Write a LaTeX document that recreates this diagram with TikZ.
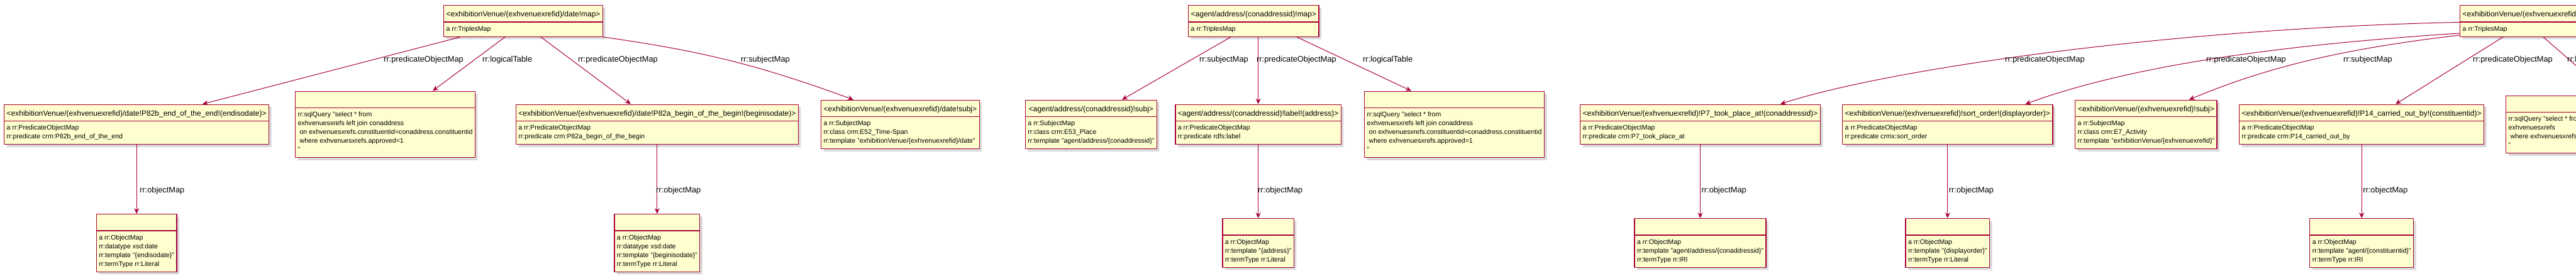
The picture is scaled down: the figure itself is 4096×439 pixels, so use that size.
\documentclass[tikz,border=0pt]{standalone}
\usepackage{fontspec}
\setmainfont{Liberation Sans}
\usetikzlibrary{shapes.multipart,shadows,arrows.meta,positioning}
\definecolor{umlred}{HTML}{A80036}
\definecolor{umlfill}{HTML}{FEFECE}
\begin{document}
\begin{tikzpicture}[x=1pt, y=-1pt, line join=round,
		map/.style={rectangle split, rectangle split parts=2, rectangle split part align={center,left},
			draw=umlred, line width=1.3pt, fill=umlfill, inner xsep=4pt, inner ysep=4pt,
			drop shadow={shadow xshift=4pt, shadow yshift=-4pt, opacity=.3}},
		link/.style={umlred, line width=1pt, -{Stealth[length=9pt,width=8pt,inset=3pt]}},
		rel/.style={font=\fontsize{12.8}{14}\selectfont, anchor=west, inner sep=0pt}]
				\def\hd#1{\fontsize{12}{14}\selectfont\rule[-3.5pt]{0pt}{17pt}#1}
				\def\bd#1{\fontsize{10.6}{14}\selectfont\begin{tabular}{@{}l@{}}#1\end{tabular}}
				\useasboundingbox (0,0) rectangle (4096,439);
				\clip (0,0) rectangle (4096,439);
				\path
				(0,198) coordinate (r2)
				(0,386.5) coordinate (r3)
				;
				% date map
				\node[map, anchor=north west] (t1) at (705,8) {\hd{<exhibitionVenue/(exhvenuexrefid)/date!map>}\nodepart{two}\bd{a rr:TriplesMap}};
				\node[map, anchor=west] (p82b) at (6,198) {\hd{<exhibitionVenue/(exhvenuexrefid)/date!P82b\_end\_of\_the\_end!(endisodate)>}\nodepart{two}\bd{a rr:PredicateObjectMap\\rr:predicate crm:P82b\_end\_of\_the\_end}};
				\node[map, anchor=west] (sql1) at (469,198) {\hd{}\nodepart{two}\bd{rr:sqlQuery "select * from\\exhvenuesxrefs left join conaddress\\\ on exhvenuesxrefs.constituentid=conaddress.constituentid\\\ where exhvenuesxrefs.approved=1\\"}};
				\node[map, anchor=east] (p82a) at (1270,198) {\hd{<exhibitionVenue/(exhvenuexrefid)/date!P82a\_begin\_of\_the\_begin!(beginisodate)>}\nodepart{two}\bd{a rr:PredicateObjectMap\\rr:predicate crm:P82a\_begin\_of\_the\_begin}};
				\node[map, anchor=west] (subj1) at (1305,198) {\hd{<exhibitionVenue/(exhvenuexrefid)/date!subj>}\nodepart{two}\bd{a rr:SubjectMap\\rr:class crm:E52\_Time-Span\\rr:template "exhibitionVenue/\{exhvenuexrefid\}/date"}};
				\node[map] (om1) at (p82b.south |- r3) {\hd{}\nodepart{two}\bd{a rr:ObjectMap\\rr:datatype xsd:date\\rr:template "\{endisodate\}"\\rr:termType rr:Literal}};
				\node[map] (om2) at (p82a.south |- r3) {\hd{}\nodepart{two}\bd{a rr:ObjectMap\\rr:datatype xsd:date\\rr:template "\{beginisodate\}"\\rr:termType rr:Literal}};
				
				\draw[link] ([xshift=27pt]t1.south west) -- ([xshift=316pt]p82b.north west);
				\draw[link] ([xshift=98pt]t1.south west) -- ([xshift=219pt]sql1.north west);
				\draw[link] ([xshift=155pt]t1.south west) -- ([xshift=-267pt]p82a.north east);
				\draw[link] (t1.south east) to[bend left=6] ([xshift=52pt]subj1.north west);
				\draw[link] (p82b.south) -- (om1.north);
				\draw[link] (p82a.south) -- (om2.north);
				\node[rel] (l1) at (610,95) {rr:predicateObjectMap};
				\node[rel] (l2) at (767,95) {rr:logicalTable};
				\node[rel] (l3) at (919,95) {rr:predicateObjectMap};
				\node[rel] (l4) at (1178,95) {rr:subjectMap};
				\node[rel] (l5) at (222,303) {rr:objectMap};
				\node[rel] (l6) at (1043,303) {rr:objectMap};
				
				% address map
				\node[map, anchor=north west] (t2) at (1889,8) {\hd{<agent/address/(conaddressid)!map>}\nodepart{two}\bd{a rr:TriplesMap}};
				\node[map, anchor=east] (subj2) at (1840,198) {\hd{<agent/address/(conaddressid)!subj>}\nodepart{two}\bd{a rr:SubjectMap\\rr:class crm:E53\_Place\\rr:template "agent/address/\{conaddressid\}"}};
				\node[map, anchor=east] (lbl2) at (2133,198) {\hd{<agent/address/(conaddressid)!label!(address)>}\nodepart{two}\bd{a rr:PredicateObjectMap\\rr:predicate rdfs:label}};
				\node[map, anchor=west] (sql2) at (2169,198) {\hd{}\nodepart{two}\bd{rr:sqlQuery "select * from\\exhvenuesxrefs left join conaddress\\\ on exhvenuesxrefs.constituentid=conaddress.constituentid\\\ where exhvenuesxrefs.approved=1\\"}};
				\node[map] (om3) at (lbl2.south |- r3) {\hd{}\nodepart{two}\bd{a rr:ObjectMap\\rr:template "\{address\}"\\rr:termType rr:Literal}};
				
				\draw[link] ([xshift=68pt]t2.south west) -- ([xshift=-56pt]subj2.north east);
				\draw[link] (lbl2.north |- t2.south) -- (lbl2.north);
				\draw[link] ([xshift=173pt]t2.south west) -- ([xshift=75pt]sql2.north west);
				\draw[link] (lbl2.south) -- (om3.north);
				\node[rel] (l7) at (1907,95) {rr:subjectMap};
				\node[rel] (l8) at (1998,95) {rr:predicateObjectMap};
				\node[rel] (l9) at (2167,95) {rr:logicalTable};
				\node[rel] (l10) at (2000,303) {rr:objectMap};
				
				% venue map
				\node[map, anchor=north west] (t3) at (3911,8) {\hd{<exhibitionVenue/(exhvenuexrefid)!map>}\nodepart{two}\bd{a rr:TriplesMap}};
				\node[map, anchor=west] (p7) at (2512,198) {\hd{<exhibitionVenue/(exhvenuexrefid)!P7\_took\_place\_at!(conaddressid)>}\nodepart{two}\bd{a rr:PredicateObjectMap\\rr:predicate crm:P7\_took\_place\_at}};
				\node[map, anchor=west] (sort) at (2929,198) {\hd{<exhibitionVenue/(exhvenuexrefid)!sort\_order!(displayorder)>}\nodepart{two}\bd{a rr:PredicateObjectMap\\rr:predicate crmx:sort\_order}};
				\node[map, anchor=west] (subj3) at (3299,198) {\hd{<exhibitionVenue/(exhvenuexrefid)!subj>}\nodepart{two}\bd{a rr:SubjectMap\\rr:class crm:E7\_Activity\\rr:template "exhibitionVenue/\{exhvenuexrefid\}"}};
				\node[map, anchor=west] (p14) at (3560,198) {\hd{<exhibitionVenue/(exhvenuexrefid)!P14\_carried\_out\_by!(constituentid)>}\nodepart{two}\bd{a rr:PredicateObjectMap\\rr:predicate crm:P14\_carried\_out\_by}};
				\node[map, anchor=west] (sql3) at (3984,198) {\hd{}\nodepart{two}\bd{rr:sqlQuery "select * from\\exhvenuesxrefs\\\ where exhvenuesxrefs.approved=1\\"}};
				\node[map] (om4) at (p7.south |- r3) {\hd{}\nodepart{two}\bd{a rr:ObjectMap\\rr:template "agent/address/\{conaddressid\}"\\rr:termType rr:IRI}};
				\node[map] (om5) at (sort.south |- r3) {\hd{}\nodepart{two}\bd{a rr:ObjectMap\\rr:template "\{displayorder\}"\\rr:termType rr:Literal}};
				\node[map] (om6) at (p14.south |- r3) {\hd{}\nodepart{two}\bd{a rr:ObjectMap\\rr:template "agent/\{constituentid\}"\\rr:termType rr:IRI}};
				
				\draw[link] ([yshift=-2pt]t3.west) .. controls (3450,45) and (3000,110) .. ([xshift=-64pt]p7.north east);
				\draw[link] ([yshift=6pt]t3.south west) .. controls (3650,70) and (3400,100) .. ([xshift=-44pt]sort.north east);
				\draw[link] ([yshift=3pt]t3.south west) .. controls (3750,75) and (3620,100) .. ([xshift=-45pt]subj3.north east);
				\draw[link] ([xshift=69pt]t3.south west) -- ([xshift=249pt]p14.north west);
				\draw[link] ([xshift=133pt]t3.south west) -- ([xshift=166pt]sql3.north west);
				\draw[link] (p7.south) -- (om4.north);
				\draw[link] (sort.south) -- (om5.north);
				\draw[link] (p14.south) -- (om6.north);
				\node[rel] (l11) at (3188,95) {rr:predicateObjectMap};
				\node[rel] (l12) at (3508,95) {rr:predicateObjectMap};
				\node[rel] (l13) at (3726,95) {rr:subjectMap};
				\node[rel] (l14) at (3932,95) {rr:predicateObjectMap};
				\node[rel] (l15) at (4082,95) {rr:logicalTable};
				\node[rel] (l16) at ([xshift=2pt]p7.south |- 0,303) {rr:objectMap};
				\node[rel] (l17) at ([xshift=2pt]sort.south |- 0,303) {rr:objectMap};
				\node[rel] (l18) at ([xshift=2pt]p14.south |- 0,303) {rr:objectMap};
		\end{tikzpicture}
\end{document}
